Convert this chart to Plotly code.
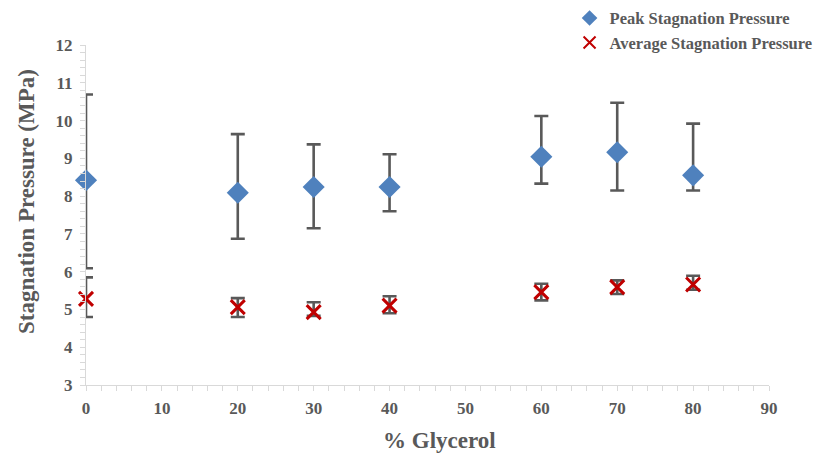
import plotly.graph_objects as go

glycerol = [0, 20, 30, 40, 60, 70, 80]
peak = [8.42, 8.09, 8.24, 8.24, 9.04, 9.16, 8.55]
peak_err_plus = [2.27, 1.55, 1.13, 0.87, 1.08, 1.31, 1.37]
peak_err_minus = [2.33, 1.22, 1.09, 0.64, 0.71, 1.01, 0.40]
avg = [5.28, 5.06, 4.93, 5.10, 5.46, 5.59, 5.66]
avg_err_plus = [0.57, 0.24, 0.26, 0.25, 0.22, 0.18, 0.23]
avg_err_minus = [0.48, 0.26, 0.10, 0.20, 0.22, 0.18, 0.14]

GRAY = "#595959"
FONT = "Liberation Serif"

fig = go.Figure()

# error bars (clipped to plot area)
fig.add_trace(go.Scatter(
    x=glycerol, y=peak, mode="markers", showlegend=False, hoverinfo="skip",
    marker=dict(size=1, opacity=0),
    error_y=dict(type="data", symmetric=False, array=peak_err_plus, arrayminus=peak_err_minus,
                 color=GRAY, thickness=2.6, width=7),
))
fig.add_trace(go.Scatter(
    x=glycerol, y=avg, mode="markers", showlegend=False, hoverinfo="skip",
    marker=dict(size=1, opacity=0),
    error_y=dict(type="data", symmetric=False, array=avg_err_plus, arrayminus=avg_err_minus,
                 color=GRAY, thickness=2.6, width=7),
))
# markers
fig.add_trace(go.Scatter(
    x=glycerol, y=peak, mode="markers", name="Peak Stagnation Pressure",
    marker=dict(symbol="diamond", size=17, color="#4F81BD"),
    cliponaxis=False,
))
fig.add_trace(go.Scatter(
    x=glycerol, y=avg, mode="markers", name="Average Stagnation Pressure",
    marker=dict(symbol="x-thin", size=14, color="#C00000",
                line=dict(color="#C00000", width=3)),
    cliponaxis=False,
))

fig.update_layout(
    width=823, height=454,
    margin=dict(l=86, r=54, t=45, b=69, autoexpand=False),
    paper_bgcolor="white", plot_bgcolor="white",
    font=dict(family=FONT, color=GRAY),
    legend=dict(
        x=0.708, y=1.13, xanchor="left", yanchor="top",
        font=dict(family=FONT, size=16.5, color=GRAY, weight="bold"),
        bgcolor="rgba(0,0,0,0)", tracegroupgap=0, itemsizing="constant",
    ),
    xaxis=dict(
        range=[0, 90], tickmode="linear", tick0=0, dtick=10,
        showgrid=False, zeroline=False, showline=True, linecolor="#D9D9D9", linewidth=1,
        ticks="outside", ticklen=5, tickcolor="#D9D9D9", ticklabelstandoff=3,
        minor=dict(dtick=2, ticks="outside", ticklen=5, tickcolor="#D9D9D9", showgrid=False),
        tickfont=dict(family=FONT, size=17, color=GRAY, weight="bold"),
    ),
    yaxis=dict(
        range=[3, 12], tickmode="linear", tick0=3, dtick=1,
        showgrid=False, zeroline=False, showline=True, linecolor="#D9D9D9", linewidth=1,
        ticks="outside", ticklen=5, tickcolor="#D9D9D9", ticklabelstandoff=4,
        minor=dict(dtick=0.2, ticks="outside", ticklen=5, tickcolor="#D9D9D9", showgrid=False),
        tickfont=dict(family=FONT, size=17, color=GRAY, weight="bold"),
    ),
    annotations=[
        dict(text="<b>% Glycerol</b>", xref="paper", yref="paper", x=0.518, y=-0.162,
             xanchor="center", yanchor="middle", showarrow=False,
             font=dict(family=FONT, size=23, color=GRAY)),
        dict(text="<b>Stagnation Pressure (MPa)</b>", xref="paper", yref="paper", x=-0.088, y=0.541,
             xanchor="center", yanchor="middle", showarrow=False, textangle=-90,
             font=dict(family=FONT, size=23, color=GRAY)),
    ],
)

fig.write_html("out.html")
